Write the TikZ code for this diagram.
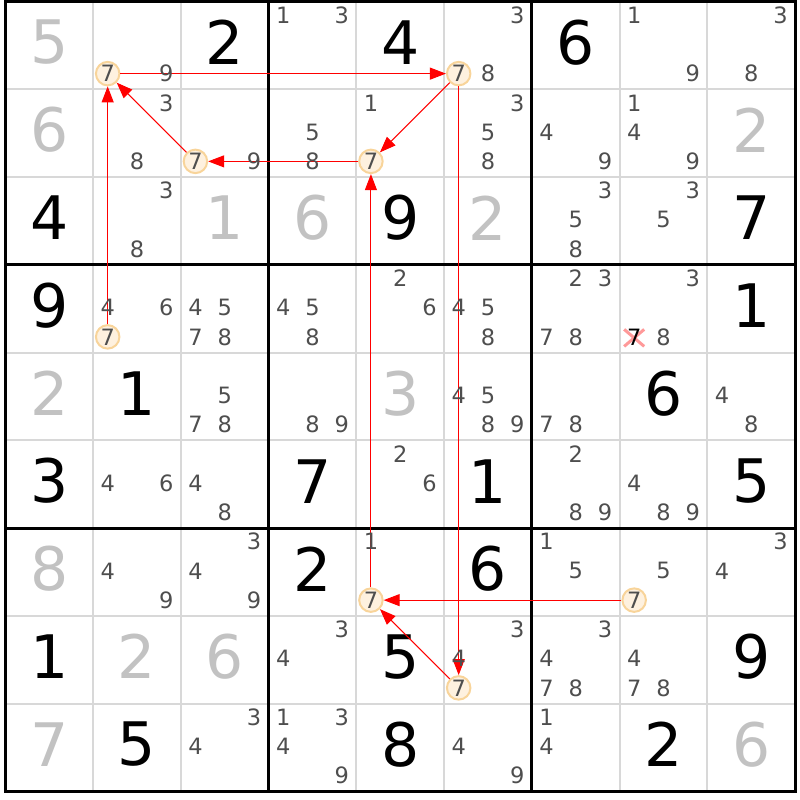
\documentclass[tikz,border=0pt]{standalone}
\usepackage{fontspec}
\setmainfont{DejaVu Sans}
\usetikzlibrary{arrows.meta}
\definecolor{candgray}{HTML}{4E4E4E}
\definecolor{givengray}{HTML}{C2C2C2}
\definecolor{gridgray}{HTML}{D8D8D8}
\definecolor{ringfill}{HTML}{FEF1DF}
\definecolor{ringdraw}{HTML}{F8D49A}
% pencil marks of cell (#1,#2)
\newcommand{\cands}[3]{%
	\foreach \d in {#3}{
		\pgfmathtruncatemacro\candcol{mod(\d-1,3)}
		\pgfmathtruncatemacro\candrow{div(\d-1,3)}
		\node[small] (p#1#2\d) at ({#2-1+(\candcol+0.5)/3},{#1-1+(\candrow+0.5)/3}) {\d};
	}}
\begin{document}
\begin{tikzpicture}[x=87.75pt, y=-87.75pt, >={Triangle[length=16pt,width=12pt]},
	big/.style={font=\fontsize{60}{60}\selectfont, inner sep=0pt, yshift=3pt},
	small/.style={font=\fontsize{22.5}{22.5}\selectfont, text=candgray, inner sep=0pt, yshift=1pt},
	ring/.style={circle, draw=ringdraw, fill=ringfill, line width=2pt, minimum size=23.5pt},
	link/.style={->, red, line width=1pt},
	cross/.style={red!40, line width=3pt}]
			\useasboundingbox (-0.0604,-0.0171) rectangle (9.0564,9.0997);
			% grid
			\foreach \i in {1,...,8}{
				\draw[gridgray, line width=2pt] (\i,0)--(\i,9) (0,\i)--(9,\i);
			}
			\foreach \i in {3,6}{
				\draw[line width=3pt] (\i,0)--(\i,9) (0,\i)--(9,\i);
			}
			\draw[line width=3pt] (0,0) rectangle (9,9);
			% given digits
			\foreach \r/\c/\v in {1/3/2,1/5/4,1/7/6,3/1/4,3/5/9,3/9/7,4/1/9,4/9/1,5/2/1,5/8/6,6/1/3,6/4/7,6/6/1,6/9/5,7/4/2,7/6/6,8/1/1,8/5/5,8/9/9,9/2/5,9/5/8,9/8/2}{
				\node[big] (g\r\c) at (\c-0.5,\r-0.5) {\v};
			}
			\foreach \r/\c/\v in {1/1/5,2/1/6,2/9/2,3/3/1,3/4/6,3/6/2,5/1/2,5/5/3,7/1/8,8/2/2,8/3/6,9/1/7,9/9/6}{
				\node[big, text=givengray] (g\r\c) at (\c-0.5,\r-0.5) {\v};
			}
			% chain of sevens
			\foreach \r/\c in {1/2,1/6,2/3,2/5,4/2,7/5,7/8,8/6}{
				\node[ring, small] (s\r\c) at ({\c-1+1/6},{\r-1+5/6}) {7};
			}
			\draw[link] (s12)--(s16);
			\draw[link] (s16)--(s25);
			\draw[link] (s25)--(s23);
			\draw[link] (s23)--(s12);
			\draw[link] (s42)--(s12);
			\draw[link] (s75)--(s25);
			\draw[link] (s16)--(s86);
			\draw[link] (s86)--(s75);
			\draw[link] (s78)--(s75);
			% eliminated 7
			\coordinate (k48) at ({7+1/6},{3+5/6});
			\draw[cross] (k48) +(-10pt,-8.5pt)--+(10pt,8.5pt) (k48) +(-10pt,8.5pt)--+(10pt,-8.5pt);
			\node[small, text=black] (x48) at (k48) {7};
			% pencil marks
			\cands{1}{2}{9} \cands{1}{4}{1,3} \cands{1}{6}{3,8} \cands{1}{8}{1,9} \cands{1}{9}{3,8}
			\cands{2}{2}{3,8} \cands{2}{3}{9} \cands{2}{4}{5,8} \cands{2}{5}{1} \cands{2}{6}{3,5,8} \cands{2}{7}{4,9} \cands{2}{8}{1,4,9}
			\cands{3}{2}{3,8} \cands{3}{7}{3,5,8} \cands{3}{8}{3,5}
			\cands{4}{2}{4,6} \cands{4}{3}{4,5,7,8} \cands{4}{4}{4,5,8} \cands{4}{5}{2,6} \cands{4}{6}{4,5,8} \cands{4}{7}{2,3,7,8} \cands{4}{8}{3,8}
			\cands{5}{3}{5,7,8} \cands{5}{4}{8,9} \cands{5}{6}{4,5,8,9} \cands{5}{7}{7,8} \cands{5}{9}{4,8}
			\cands{6}{2}{4,6} \cands{6}{3}{4,8} \cands{6}{5}{2,6} \cands{6}{7}{2,8,9} \cands{6}{8}{4,8,9}
			\cands{7}{2}{4,9} \cands{7}{3}{3,4,9} \cands{7}{5}{1} \cands{7}{7}{1,5} \cands{7}{8}{5} \cands{7}{9}{3,4}
			\cands{8}{4}{3,4} \cands{8}{6}{3,4} \cands{8}{7}{3,4,7,8} \cands{8}{8}{4,7,8}
			\cands{9}{3}{3,4} \cands{9}{4}{1,3,4,9} \cands{9}{6}{4,9} \cands{9}{7}{1,4}
\end{tikzpicture}
\end{document}
